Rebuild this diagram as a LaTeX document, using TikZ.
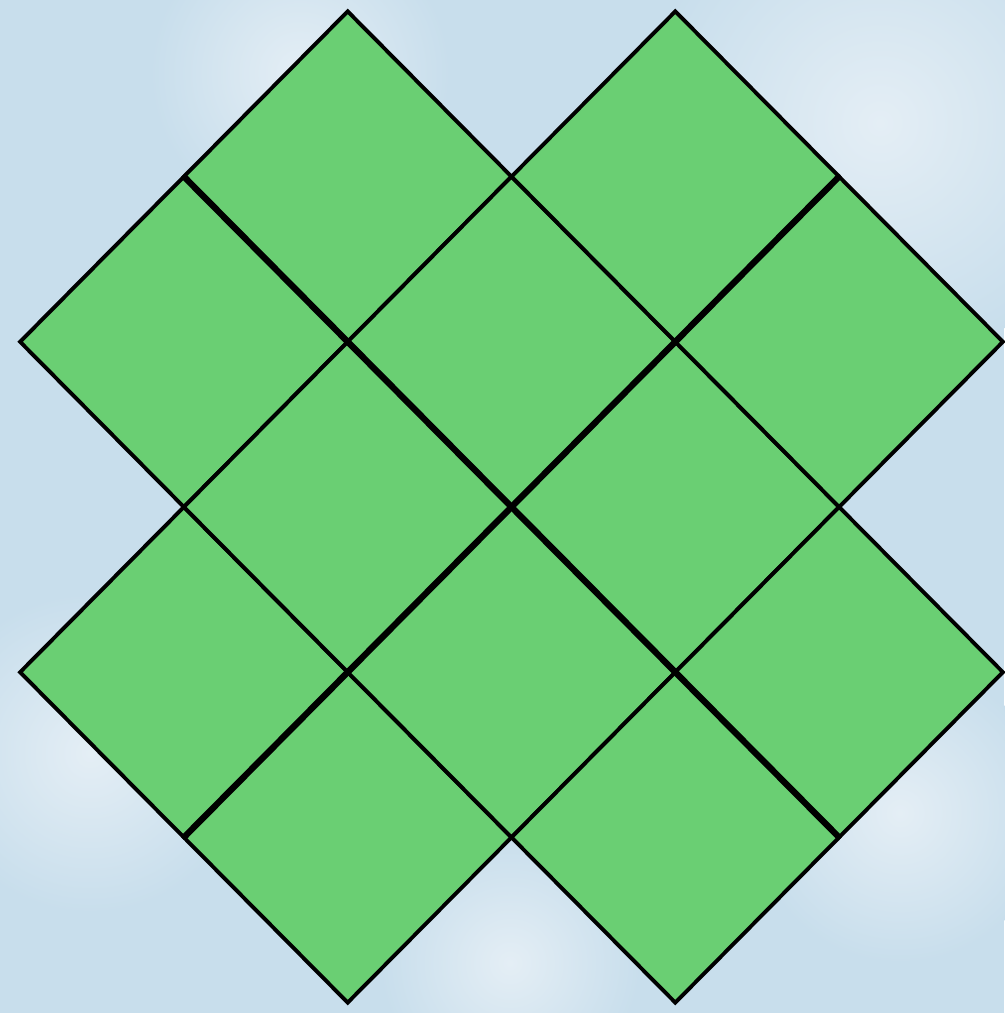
\documentclass[tikz,border=0pt]{standalone}
\usepackage{tikz}
\definecolor{skyblue}{RGB}{200,222,236}
\definecolor{cloudwhite}{RGB}{228,238,245}
\definecolor{tilegreen}{RGB}{106,207,115}

\begin{document}
\begin{tikzpicture}[
                tile/.style={draw=black, line width=1.1pt, fill=tilegreen, line join=miter},
                seam/.style={draw=black, line width=1.8pt},
                cloud/.style={inner color=cloudwhite, outer color=skyblue}
            ]
            \fill[skyblue] (0,0) rectangle (10.04,10.13);
            \useasboundingbox (0,0) rectangle (10.04,10.13);
            \shade[cloud] (8.8,8.9) circle (2.4cm);
            \shade[cloud] (3.0,9.4) circle (1.5cm);
            \shade[cloud] (0.9,2.6) circle (1.6cm);
            \shade[cloud] (9.0,2.0) circle (1.5cm);
            \shade[cloud] (5.1,0.5) circle (1.3cm);

            \begin{scope}[shift={(5.115,5.06)}, x={(1.638cm,-1.652cm)}, y={(1.638cm,1.652cm)}]
                \foreach \i in {0,...,3} {
                    \foreach \j in {0,...,3} {
                        \pgfmathtruncatemacro{\corner}{(\i==0 || \i==3) && (\j==0 || \j==3)}
                        \ifnum\corner=0
                            \draw[tile] (\i-2,\j-2) -- (\i-1,\j-2) -- (\i-1,\j-1) -- (\i-2,\j-1) -- cycle;
                        \fi
                    }
                }
                \coordinate (nw) at (-2,0);
                \coordinate (se) at (2,0);
                \coordinate (sw) at (0,-2);
                \coordinate (ne) at (0,2);
                \draw[seam] (nw) -- (se);
                \draw[seam] (sw) -- (ne);
            \end{scope}
            \end{tikzpicture}
\end{document}
